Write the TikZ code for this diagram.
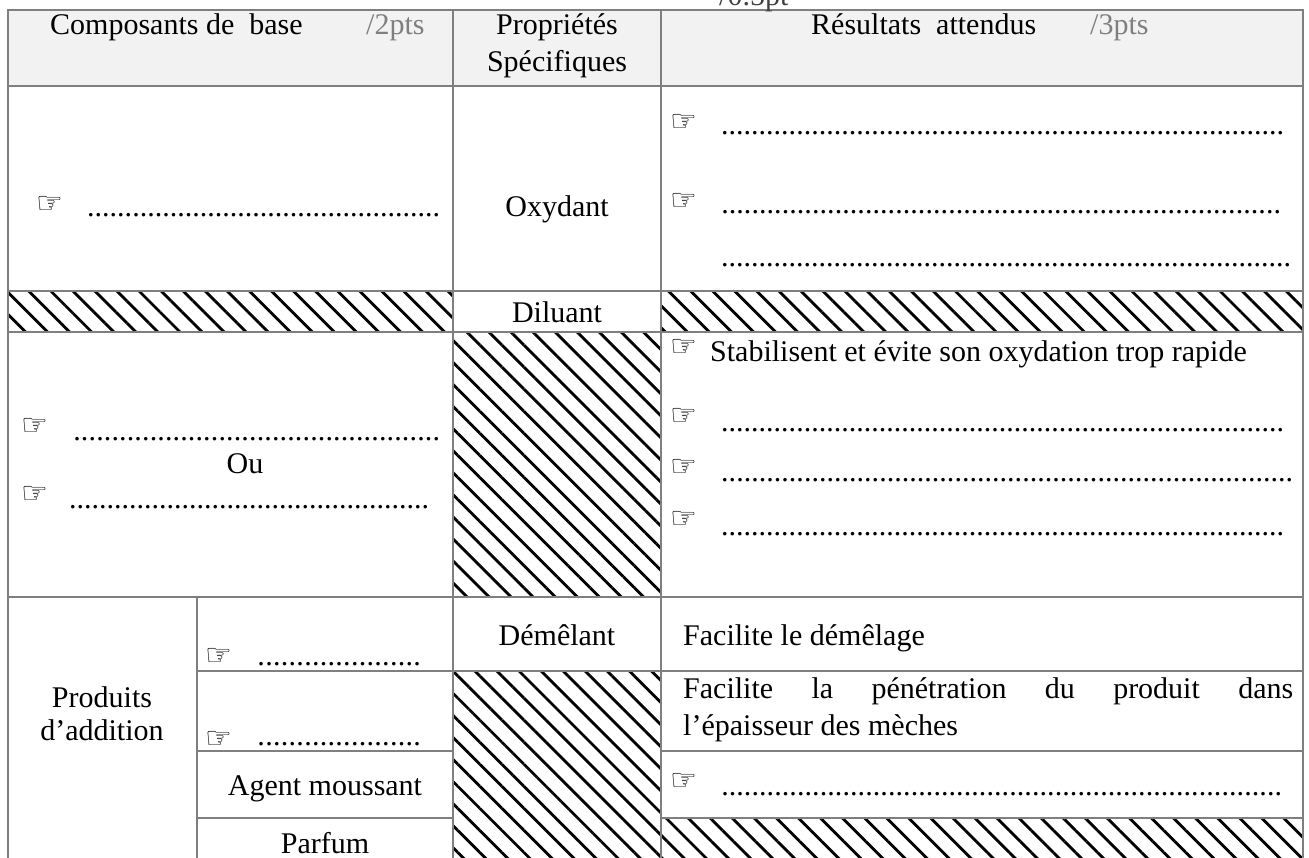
\documentclass[tikz,border=0pt]{standalone}
\usepackage{fontspec}
\setmainfont{Liberation Serif}
\newfontfamily\symfont{DejaVu Sans}
\usetikzlibrary{patterns.meta}
\definecolor{gridc}{HTML}{7F7F7F}
\definecolor{hdr}{HTML}{F2F2F2}
\definecolor{ptsgray}{HTML}{7F7F7F}
\definecolor{topgray}{HTML}{404040}
\newcommand\dotrow[1]{\hbox to #1{\xleaders\hbox to 7.5pt{\hss.\hss}\hfil}}
\begin{document}
\begin{tikzpicture}[x=1pt,y=-1pt,
  txt/.style={inner sep=0pt, font=\fontsize{30}{36}\selectfont},
  hand/.style={inner sep=0pt, font=\symfont\fontsize{30}{30}\selectfont},
  hatch/.style={pattern={Lines[angle=-45,distance=15.6pt,line width=2.8pt]}},
  gridline/.style={draw=gridc, line width=2pt}]
\useasboundingbox (0,0) rectangle (1309,858);
\fill[white] (0,0) rectangle (1309,858);
% header background
\fill[hdr] (8,10) rectangle (1303,86);
% hatched cells
\fill[hatch] (8,291) rectangle (453,332);
\fill[hatch] (661,291) rectangle (1303,332);
\fill[hatch] (453,332) rectangle (661,597);
\fill[hatch] (453,671) rectangle (661,858);
\fill[hatch] (661,818) rectangle (1303,858);
% grid
\draw[gridline] (8,858) -- (8,10) -- (1303,10) -- (1303,858);
\draw[gridline] (453,10) -- (453,858);
\draw[gridline] (661,10) -- (661,858);
\draw[gridline] (197,597) -- (197,858);
\draw[gridline] (8,86) -- (1303,86);
\draw[gridline] (8,291) -- (1303,291);
\draw[gridline] (8,332) -- (1303,332);
\draw[gridline] (8,597) -- (1303,597);
\draw[gridline] (197,671) -- (1303,671);
\draw[gridline] (197,751) -- (453,751);
\draw[gridline] (661,751) -- (1303,751);
\draw[gridline] (197,818) -- (453,818);
\draw[gridline] (661,818) -- (1303,818);
% top stray mark
\node[txt, anchor=base west, text=topgray] (mark) at (719,6) {/0.5pt};
% header
\node[txt, anchor=base west] (h1) at (50,35) {Composants de\ \ base};
\node[txt, anchor=base west, text=ptsgray] (h1p) at (366,35) {/2pts};
\node[txt, anchor=base] (h2a) at (557,35) {Propriétés};
\node[txt, anchor=base] (h2b) at (557,72) {Spécifiques};
\node[txt, anchor=base west] (h3) at (811,35) {Résultats\ \ attendus};
\node[txt, anchor=base west, text=ptsgray] (h3p) at (1090,35) {/3pts};
% Oxydant row
\node[hand] (ox1h) at (50,205) {☞};
\node[txt, anchor=base west] (ox1d) at (87,217) {\dotrow{353pt}};
\node[txt, anchor=base] (ox) at (557,217) {Oxydant};
\node[hand] (ox3h1) at (684,123) {☞};
\node[txt, anchor=base west] (ox3d1) at (721,135) {\dotrow{563pt}};
\node[hand] (ox3h2) at (684,202) {☞};
\node[txt, anchor=base west] (ox3d2) at (721,214) {\dotrow{560pt}};
\node[txt, anchor=base west] (ox3d3) at (721,267) {\dotrow{570pt}};
% Diluant row
\node[txt, anchor=base] (dil) at (557,323) {Diluant};
% Stabilisant row
\node[hand] (st1h1) at (35,427) {☞};
\node[txt, anchor=base west] (st1d1) at (73,440) {\dotrow{367pt}};
\node[txt, anchor=base] (ou) at (245,473) {Ou};
\node[hand] (st1h2) at (35,495) {☞};
\node[txt, anchor=base west] (st1d2) at (69,508) {\dotrow{360pt}};
\node[hand] (st3h0) at (684,348) {☞};
\node[txt, anchor=base west] (stab) at (710,362) {Stabilisent et évite son oxydation trop rapide};
\node[hand] (st3h1) at (684,417) {☞};
\node[txt, anchor=base west] (st3d1) at (721,431) {\dotrow{563pt}};
\node[hand] (st3h2) at (684,468) {☞};
\node[txt, anchor=base west] (st3d2) at (721,481) {\dotrow{572pt}};
\node[hand] (st3h3) at (684,520) {☞};
\node[txt, anchor=base west] (st3d3) at (721,535) {\dotrow{563pt}};
% bottom block
\node[txt, anchor=base] (prod1) at (102,707) {Produits};
\node[txt, anchor=base] (prod2) at (102,740) {d’addition};
\node[hand] (b1h1) at (219,657) {☞};
\node[txt, anchor=base west] (b1d1) at (257,665) {\dotrow{164pt}};
\node[hand] (b1h2) at (219,740) {☞};
\node[txt, anchor=base west] (b1d2) at (257,745) {\dotrow{164pt}};
\node[txt, anchor=base] (agent) at (325,795) {Agent moussant};
\node[txt, anchor=base] (parf) at (325,853) {Parfum};
\node[txt, anchor=base] (dem) at (557,645) {Démêlant};
\node[txt, anchor=base west] (fac1) at (683,645) {Facilite le démêlage};
\node[txt, anchor=base west] (fac2a) at (683,698) {\hbox to 610pt{Facilite\hfill la\hfill pénétration\hfill du\hfill produit\hfill dans}};
\node[txt, anchor=base west] (fac2b) at (683,735) {l’épaisseur des mèches};
\node[hand] (b3h) at (684,782) {☞};
\node[txt, anchor=base west] (b3d) at (721,795) {\dotrow{561pt}};
\end{tikzpicture}
\end{document}
